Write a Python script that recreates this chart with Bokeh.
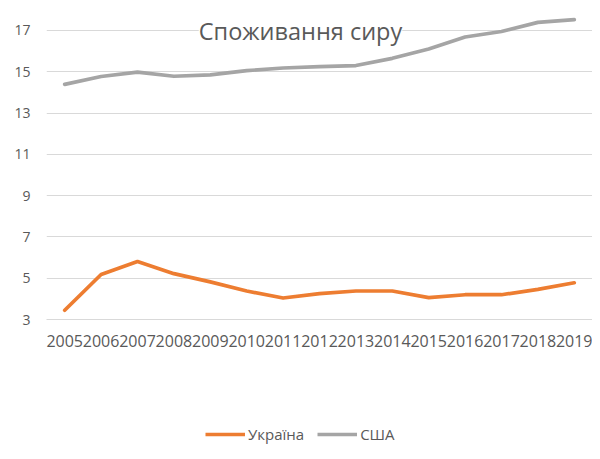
from bokeh.plotting import figure
from bokeh.layouts import column
from bokeh.models import Label, Legend, LegendItem, FixedTicker, Range1d
from bokeh.embed import file_html
from bokeh.resources import INLINE

years = list(range(2005, 2020))
ukraine = [3.45, 5.18, 5.81, 5.22, 4.82, 4.38, 4.04, 4.25, 4.38, 4.38, 4.06, 4.2, 4.2, 4.46, 4.78]
usa = [14.39, 14.77, 14.98, 14.78, 14.85, 15.05, 15.18, 15.25, 15.3, 15.65, 16.1, 16.68, 16.95, 17.39, 17.52]
y_ticks = [3, 5, 7, 9, 11, 13, 15, 17]
title_text = "Споживання сиру"
names = ["Україна", "США"]

ORANGE = "#ED7D31"
GRAY = "#A5A5A5"
TXT = "#595959"
GRID = "#D9D9D9"

p = figure(width=592, height=360, output_backend="svg", toolbar_location=None,
           x_range=Range1d(2004.5, 2019.5), y_range=Range1d(3, 18.45),
           min_border_left=46, min_border_right=0, min_border_top=0, min_border_bottom=41)
p.outline_line_color = None
p.xgrid.grid_line_color = None
p.ygrid.grid_line_color = GRID
p.ygrid.grid_line_width = 1

p.xaxis.ticker = FixedTicker(ticks=years)
p.yaxis.ticker = FixedTicker(ticks=y_ticks)
for ax in (p.xaxis, p.yaxis):
    ax.major_tick_line_color = None
    ax.minor_tick_line_color = None
    ax.major_tick_out = 0
    ax.major_tick_in = 0
    ax.major_label_text_color = TXT
    ax.major_label_text_font = "Open Sans"
    ax.major_label_text_font_size = "14px"
p.xaxis.axis_line_color = GRID
p.yaxis.axis_line_color = None
p.yaxis.major_label_standoff = 16
p.xaxis.major_label_standoff = 15
p.xaxis.major_label_text_font_size = "16px"

r1 = p.line(years, ukraine, line_color=ORANGE, line_width=3.7, line_cap="round", line_join="round")
r2 = p.line(years, usa, line_color=GRAY, line_width=3.7, line_cap="round", line_join="round")

title = Label(x=254, y=289, x_units="screen", y_units="screen", text=title_text,
              text_align="center", text_baseline="alphabetic", text_font="Open Sans",
              text_font_size="23.5px", text_color=TXT,
              background_fill_color="white", background_fill_alpha=1.0)
p.add_layout(title)

# legend panel below the chart (lines here lie outside its ranges, only their legend swatches show)
lp = figure(width=592, height=91, output_backend="svg", toolbar_location=None,
            x_range=Range1d(0, 1), y_range=Range1d(0, 1),
            min_border_left=0, min_border_right=0, min_border_top=0, min_border_bottom=0)
lp.axis.visible = False
lp.grid.visible = False
lp.outline_line_color = None
l1 = lp.line(years, ukraine, line_color=ORANGE, line_width=3.7)
l2 = lp.line(years, usa, line_color=GRAY, line_width=3.7)
legend = Legend(items=[LegendItem(label=names[0], renderers=[l1]),
                       LegendItem(label=names[1], renderers=[l2])],
                location=(159, 7), orientation="horizontal",
                glyph_width=40, glyph_height=20, label_standoff=3, spacing=13,
                padding=0, margin=0, border_line_color=None, background_fill_alpha=0,
                label_text_font="Open Sans", label_text_font_size="15px", label_text_color=TXT)
lp.add_layout(legend)

layout = column(p, lp, spacing=0)
open("out.html", "w").write(file_html(layout, INLINE))
